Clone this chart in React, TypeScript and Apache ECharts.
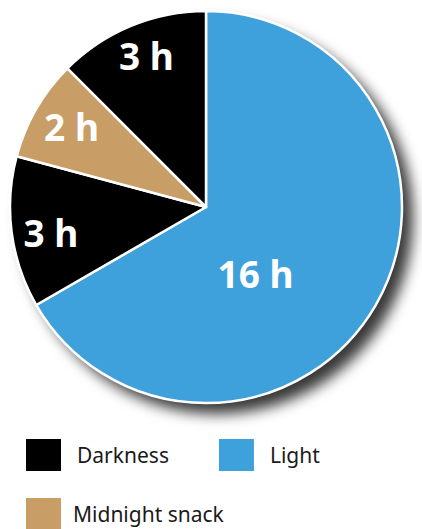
import React, { useEffect, useRef } from "react";
import * as echarts from "echarts";

const sliceNames = ["Light", "Darkness", "Midnight snack", "Darkness"];
const sliceHours = [16, 3, 2, 3];
const sliceColors = ["#3EA1DB", "#000000", "#C89D66", "#000000"];
const labelShift = [
  [-38, 16],
  [-55, 12],
  [-47, -30],
  [-21, -58],
];
const legendRow1 = ["Darkness", "Light"];
const legendRow2 = ["Midnight snack"];

export default function App() {
  const ref = useRef<HTMLDivElement>(null);
  useEffect(() => {
    document.body.style.margin = "0";
    const chart = echarts.init(ref.current!, null, { renderer: "svg" });
    const data = sliceNames.map((n, i) => ({
      name: n,
      value: sliceHours[i],
      itemStyle: { color: sliceColors[i] },
    }));
    const legendCommon = {
      left: 26,
      padding: 0,
      orient: "horizontal" as const,
      icon: "rect",
      itemWidth: 35,
      itemHeight: 32,
      itemGap: 50,
      selectedMode: false,
      itemStyle: { borderWidth: 0, shadowBlur: 0, shadowOffsetX: 0, shadowOffsetY: 0, shadowColor: "transparent" },
    };
    const legendText = (left: number) => ({
      fontFamily: "Noto Sans",
      fontSize: 21,
      color: "#1a1a1a",
      padding: [6, 0, 0, left],
    });
    chart.setOption({
      animation: false,
      legend: [
        { ...legendCommon, top: 439, data: legendRow1, textStyle: legendText(11) },
        { ...legendCommon, top: 498, data: legendRow2, textStyle: legendText(7) },
      ],
      series: [
        {
          type: "pie",
          center: [206, 207],
          radius: 196,
          startAngle: 90,
          clockwise: true,
          silent: true,
          label: { show: false },
          labelLine: { show: false },
          itemStyle: {
            shadowBlur: 14,
            shadowOffsetX: 11,
            shadowOffsetY: 11,
            shadowColor: "rgba(0,0,0,0.78)",
          },
          data,
        },
        {
          type: "pie",
          center: [206, 207],
          radius: 196,
          startAngle: 90,
          clockwise: true,
          silent: true,
          emphasis: { disabled: true },
          itemStyle: { borderColor: "#ffffff", borderWidth: 2.5 },
          label: {
            show: true,
            position: "inside",
            formatter: (p: any) => p.value + " h",
            color: "#ffffff",
            fontFamily: "Noto Sans",
            fontWeight: "bold",
            fontSize: 37,
          },
          labelLine: { show: false },
          labelLayout: (p: any) => {
            const s = labelShift[p.dataIndex] || [0, 0];
            return { dx: s[0], dy: s[1] };
          },
          data,
        },
      ],
    });
    return () => chart.dispose();
  }, []);
  return <div ref={ref} style={{ width: 422, height: 529 }} />;
}
